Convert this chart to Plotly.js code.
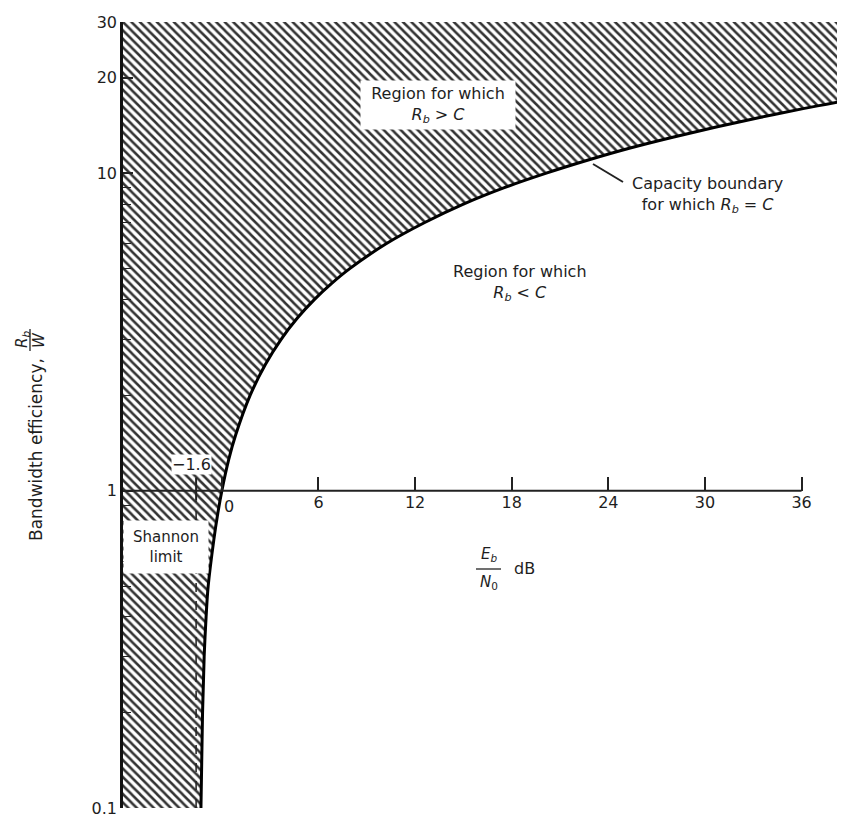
<!DOCTYPE html>
<html>
<head>
<meta charset="utf-8">
<script src="https://cdn.plot.ly/plotly-3.0.1.min.js"></script>
<style>
  html, body { margin: 0; padding: 0; background: #ffffff; }
  #chart { width: 859px; height: 819px; }
</style>
</head>
<body>
<div id="chart"></div>
<script>
// ---- Data ----
// Capacity boundary R_b = C : Eb/N0 (dB) versus bandwidth efficiency R_b/W
const boundaryEbN0dB = [-1.3, -1.2, -1.1, -0.98, -0.85, -0.5, -0.25, 0, 0.42, 0.86, 1.76, 2.7, 3.68, 4.69, 5.74, 6.82, 7.92, 10.2, 12.6, 15.0, 17.5, 20.1, 22.7, 25.3, 28.0, 30.7, 33.4, 36.1, 39.4];
const boundaryEff    = [0.1, 0.2, 0.3, 0.4, 0.5, 0.7, 0.85, 1, 1.25, 1.5, 2, 2.5, 3, 3.5, 4, 4.5, 5, 6, 7, 8, 9, 10, 11, 12, 13, 14, 15, 16, 17.2];

// Shannon limit (dB)
const shannonLimitDB = -1.6;

// Axes
const xRange = [-6.14, 38.2];
const yMin = 0.1, yMax = 30;
const xTickVals = [0, 6, 12, 18, 24, 30, 36];
const xTickText = ["", "6", "12", "18", "24", "30", "36"];
const zeroLabel = "0";
const yTickVals = [0.1, 1, 10, 20, 30];
const yTickText = ["0.1", "1", "10", "20", "30"];
const yMinorTicks = [0.2, 0.3, 0.4, 0.5, 0.6, 0.7, 0.8, 0.9, 2, 3, 4, 5, 6, 7, 8, 9];
const xAxisEnd = 36;

// ---- Layout geometry (pixels) ----
const W = 859, H = 819;
const M = { l: 123, r: 22, t: 22, b: 11 };
const plotW = W - M.l - M.r, plotH = H - M.t - M.b;
function px(x) { return (x - M.l) / plotW; }
function py(y) { return (H - M.b - y) / plotH; }

const FONT = "DejaVu Sans, Arial, sans-serif";
const TXT = "#1e1e1e";

// Hatched region (R_b > C) polygon built from the boundary arrays
const hatchX = [xRange[0]].concat(boundaryEbN0dB, [boundaryEbN0dB[boundaryEbN0dB.length - 1], xRange[0]]);
const hatchY = [yMin].concat(boundaryEff, [yMax, yMax]);

const traces = [
  {
    type: "scatter", mode: "lines",
    x: hatchX, y: hatchY,
    fill: "toself",
    fillcolor: "#333333",
    fillpattern: { shape: "\\", size: 6, solidity: 0.42, fgcolor: "#333333", bgcolor: "#ffffff" },
    line: { width: 0, color: "rgba(0,0,0,0)" },
    hoverinfo: "skip"
  },
  {
    type: "scatter", mode: "lines",
    x: boundaryEbN0dB, y: boundaryEff,
    line: { color: "#000000", width: 3, shape: "spline", smoothing: 1 },
    hoverinfo: "skip"
  }
];

const xAxisPos = (Math.log10(1) - Math.log10(yMin)) / (Math.log10(yMax) - Math.log10(yMin));

const ann = (x, y, text, extra) => Object.assign({
  xref: "paper", yref: "paper", x: px(x), y: py(y), text: text,
  showarrow: false, xanchor: "center", yanchor: "middle",
  font: { family: FONT, size: 16, color: TXT }
}, extra || {});

const layout = {
  width: W, height: H,
  margin: M,
  paper_bgcolor: "#ffffff",
  plot_bgcolor: "#ffffff",
  showlegend: false,
  xaxis: {
    range: xRange,
    tickmode: "array", tickvals: xTickVals, ticktext: xTickText,
    ticks: "inside", ticklen: 14, tickwidth: 1.5, tickcolor: "#222",
    showline: false, showgrid: false, zeroline: false,
    anchor: "free", position: xAxisPos,
    tickfont: { family: FONT, size: 16, color: TXT }
  },
  yaxis: {
    type: "log",
    range: [Math.log10(yMin), Math.log10(yMax)],
    tickmode: "array", tickvals: yTickVals, ticktext: yTickText,
    ticks: "inside", ticklen: 10, tickwidth: 1.5, tickcolor: "#222",
    showline: true, linewidth: 2.5, linecolor: "#111",
    showgrid: false, zeroline: false,
    tickfont: { family: FONT, size: 16, color: TXT },
    minor: { tickmode: "array", tickvals: yMinorTicks, ticks: "inside", ticklen: 8, tickwidth: 1.2, tickcolor: "#222", showgrid: false }
  },
  shapes: [
    // x axis drawn at R_b/W = 1
    { type: "line", xref: "x", yref: "y", x0: xRange[0], x1: xAxisEnd, y0: 1, y1: 1, line: { color: "#222", width: 2 } },
    // Shannon limit marker
    { type: "line", xref: "x", yref: "y", x0: shannonLimitDB, x1: shannonLimitDB, y0: yMin, y1: 0.93, line: { color: "#222", width: 1.5, dash: "dash" } },
    { type: "line", xref: "x", yref: "y", x0: shannonLimitDB, x1: shannonLimitDB, y0: 0.93, y1: 1.1, line: { color: "#222", width: 2 } },
    // leader line for capacity boundary label
    { type: "line", xref: "paper", yref: "paper", x0: px(593), y0: py(164), x1: px(623), y1: py(182), line: { color: "#222", width: 2 } },
    // fraction bar for Eb/N0
    { type: "line", xref: "paper", yref: "paper", x0: px(476), y0: py(569), x1: px(501), y1: py(569), line: { color: "#222", width: 1.3 } },
    // fraction bar for Rb/W (rotated)
    { type: "line", xref: "paper", yref: "paper", x0: px(30), y0: py(329), x1: px(30), y1: py(351), line: { color: "#222", width: 1.3 } }
  ],
  annotations: [
    ann(438, 105, "Region for which<br><i>R<sub>b</sub></i> &gt; <i>C</i>", { bgcolor: "#ffffff", width: 152, height: 46 }),
    ann(520, 283, "Region for which<br><i>R<sub>b</sub></i> &lt; <i>C</i>"),
    ann(707, 195, "Capacity boundary<br>for which <i>R<sub>b</sub></i> = <i>C</i>"),
    ann(191, 464, "\u22121.6", { bgcolor: "#ffffff", borderpad: 0 }),
    ann(229, 506, zeroLabel),
    ann(166, 547, "Shannon<br>limit", { bgcolor: "#ffffff", width: 82, height: 50, font: { family: FONT, size: 15, color: TXT } }),
    // x title: Eb/N0 dB
    ann(489, 555, "<i>E<sub>b</sub></i>", { font: { family: FONT, size: 15, color: TXT } }),
    ann(489, 582, "<i>N</i><sub>0</sub>", { font: { family: FONT, size: 15, color: TXT } }),
    ann(524, 569, "dB", { font: { family: FONT, size: 16, color: TXT } }),
    // y title
    ann(36, 450, "Bandwidth efficiency,", { textangle: -90, font: { family: FONT, size: 17, color: TXT } }),
    ann(22, 340, "<i>R<sub>b</sub></i>", { textangle: -90, font: { family: FONT, size: 15, color: TXT } }),
    ann(39, 340, "<i>W</i>", { textangle: -90, font: { family: FONT, size: 15, color: TXT } })
  ]
};

Plotly.newPlot("chart", traces, layout, { displayModeBar: false });
</script>
</body>
</html>
